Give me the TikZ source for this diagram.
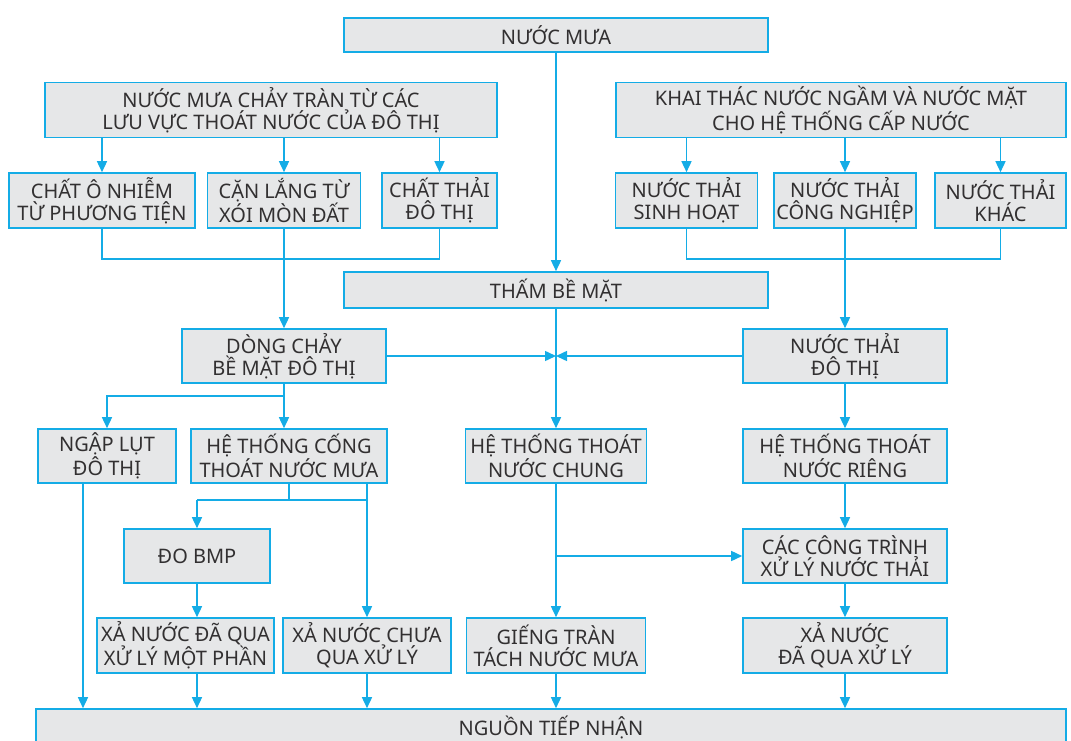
\documentclass[tikz,border=0pt]{standalone}
\usepackage{fontspec}
\setmainfont{Noto Sans}
\usetikzlibrary{arrows.meta}
\definecolor{flowblue}{RGB}{20,172,230}
\definecolor{boxgray}{RGB}{230,231,232}
\definecolor{inkgray}{RGB}{50,48,49}

\begin{document}
\begin{tikzpicture}[
    x=1pt, y=-1pt,
    box/.style={draw=flowblue, fill=boxgray, line width=1.6pt, align=center, inner sep=0pt,
        text=inkgray, font=\fontsize{20}{22}\selectfont},
    arrow/.style={draw=flowblue, line width=1.5pt, -{Triangle[length=11pt, width=10pt]}},
    link/.style={draw=flowblue, line width=1.5pt}
]
    \useasboundingbox (0,0) rectangle (1071,741);
    \clip (0,0) rectangle (1071,741);

    % Sources
    \node[box, minimum width=424, minimum height=34] (rain) at (556,35) {NƯỚC MƯA};
    \node[box, minimum width=452, minimum height=55] (runoff) at (271,110) {NƯỚC MƯA CHẢY TRÀN TỪ CÁC\\LƯU VỰC THOÁT NƯỚC CỦA ĐÔ THỊ};
    \node[box, minimum width=450, minimum height=55] (supply) at (841,110) {KHAI THÁC NƯỚC NGẦM VÀ NƯỚC MẶT\\CHO HỆ THỐNG CẤP NƯỚC};

    % Pollutants and waste water
    \node[box, minimum width=186, minimum height=55] (pollut) at (102,200.5) {CHẤT Ô NHIỄM\\TỪ PHƯƠNG TIỆN};
    \node[box, minimum width=153, minimum height=55] (sediment) at (284,200.5) {CẶN LẮNG TỪ\\XÓI MÒN ĐẤT};
    \node[box, minimum width=115, minimum height=55] (waste) at (439.5,200.5) {CHẤT THẢI\\ĐÔ THỊ};
    \node[box, minimum width=142, minimum height=55] (domestic) at (686.5,200.5) {NƯỚC THẢI\\SINH HOẠT};
    \node[box, minimum width=142, minimum height=55] (industry) at (845,200.5) {NƯỚC THẢI\\CÔNG NGHIỆP};
    \node[box, minimum width=131, minimum height=55] (otherw) at (1000.5,200.5) {NƯỚC THẢI\\KHÁC};

    % Middle
    \node[box, minimum width=424, minimum height=36] (infil) at (556,290) {THẤM BỀ MẶT};
    \node[box, minimum width=204, minimum height=54] (surface) at (284,356) {DÒNG CHẢY\\BỀ MẶT ĐÔ THỊ};
    \node[box, minimum width=204, minimum height=54] (urbanw) at (845,356) {NƯỚC THẢI\\ĐÔ THỊ};
    \node[box, minimum width=138, minimum height=54] (flood) at (107,456) {NGẬP LỤT\\ĐÔ THỊ};
    \node[box, minimum width=196, minimum height=54] (storm) at (289,456) {HỆ THỐNG CỐNG\\THOÁT NƯỚC MƯA};
    \node[box, minimum width=181, minimum height=54] (combined) at (556,456) {HỆ THỐNG THOÁT\\NƯỚC CHUNG};
    \node[box, minimum width=204, minimum height=54] (separate) at (845,456) {HỆ THỐNG THOÁT\\NƯỚC RIÊNG};
    \node[box, minimum width=146, minimum height=54] (bmp) at (197,556) {ĐO BMP};
    \node[box, minimum width=204, minimum height=54] (plant) at (845,556) {CÁC CÔNG TRÌNH\\XỬ LÝ NƯỚC THẢI};

    % Discharge
    \node[box, minimum width=177, minimum height=55] (partial) at (185.5,645.5) {XẢ NƯỚC ĐÃ QUA\\XỬ LÝ MỘT PHẦN};
    \node[box, minimum width=168, minimum height=55] (untreat) at (367,645.5) {XẢ NƯỚC CHƯA\\QUA XỬ LÝ};
    \node[box, minimum width=179, minimum height=55] (overflow) at (556,645.5) {GIẾNG TRÀN\\TÁCH NƯỚC MƯA};
    \node[box, minimum width=204, minimum height=55] (treated) at (845,645.5) {XẢ NƯỚC\\ĐÃ QUA XỬ LÝ};
    \node[box, minimum width=1030, minimum height=36] (receiver) at (551,727) {NGUỒN TIẾP NHẬN};

    % Helper levels
    \coordinate (collect) at (0,259);
    \coordinate (split) at (0,396);
    \coordinate (fork) at (0,500);

    % Rain water
    \draw[arrow] (rain) -- (infil);
    \foreach \n in {pollut, sediment, waste}
        \draw[arrow] (runoff.south -| \n) -- (\n);
    \draw[link] (pollut.south) -- (pollut.south |- collect) -- (waste.south |- collect) -- (waste.south);
    \draw[arrow] (sediment) -- (surface);

    % Supply water
    \foreach \n in {domestic, industry, otherw}
        \draw[arrow] (supply.south -| \n) -- (\n);
    \draw[link] (domestic.south) -- (domestic.south |- collect) -- (otherw.south |- collect) -- (otherw.south);
    \draw[arrow] (industry) -- (urbanw);

    % Meeting point
    \draw[arrow] (infil) -- (combined);
    \draw[arrow] (surface.east) -- (infil.south |- surface.east);
    \draw[arrow] (urbanw.west) -- (infil.south |- urbanw.west);

    % Storm branch
    \draw[arrow] (surface.south) -- (surface.south |- storm.north);
    \draw[arrow] (surface.south |- split) -| (flood.north);
    \draw[arrow] ([xshift=-24pt]flood.south) -- ([xshift=-24pt]flood.south |- receiver.north);
    \draw[link] (storm.south) -- (storm.south |- fork);
    \draw[link] (bmp.north |- fork) -- (untreat.north |- fork);
    \draw[arrow] (bmp.north |- fork) -- (bmp.north);
    \draw[arrow] (untreat.north |- storm.south) -- (untreat.north);
    \draw[arrow] (bmp.south) -- (bmp.south |- partial.north);
    \draw[arrow] (bmp.south |- partial.south) -- (bmp.south |- receiver.north);
    \draw[arrow] (untreat) -- (untreat.south |- receiver.north);

    % Combined and separate
    \draw[arrow] (combined) -- (overflow);
    \draw[arrow] (combined.south |- plant.west) -- (plant.west);
    \draw[arrow] (overflow) -- (overflow.south |- receiver.north);
    \draw[arrow] (urbanw) -- (separate);
    \draw[arrow] (separate) -- (plant);
    \draw[arrow] (plant) -- (treated);
    \draw[arrow] (treated) -- (treated.south |- receiver.north);

\end{tikzpicture}
\end{document}
